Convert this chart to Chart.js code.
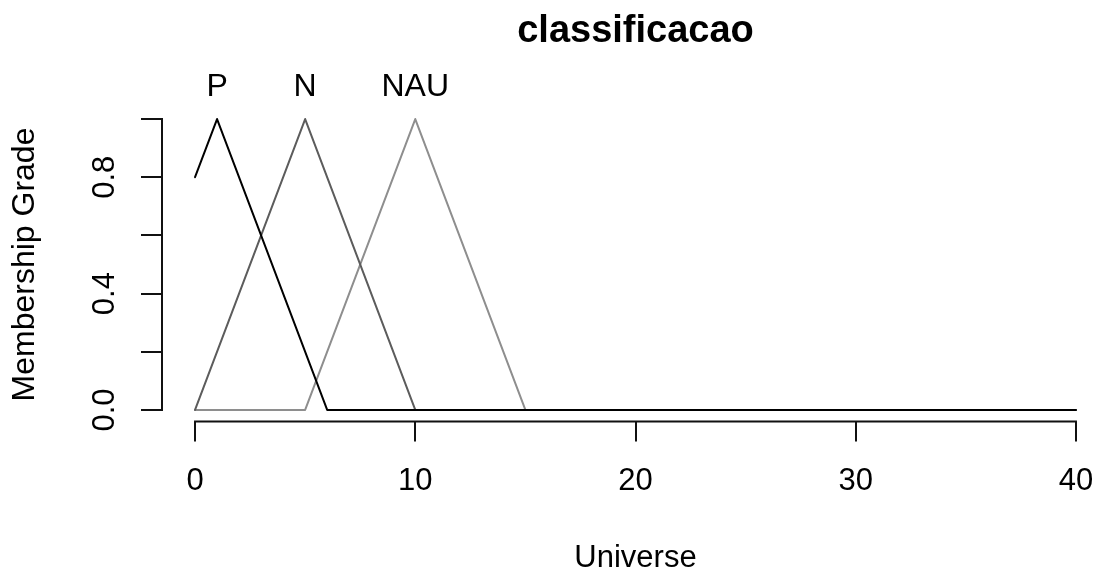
<!DOCTYPE html>
<html>
<head>
<meta charset="utf-8">
<title>classificacao</title>
<script src="https://cdn.jsdelivr.net/npm/chart.js@4/dist/chart.umd.min.js"></script>
<style>
  html, body { margin: 0; padding: 0; background: #ffffff; }
  #wrap { width: 1109px; height: 574px; }
</style>
</head>
<body>
<div id="wrap"><canvas id="chart" width="1109" height="574"></canvas></div>
<script>
// Membership functions of the fuzzy variable "classificacao"
const TITLE = 'classificacao';
const SET_NAMES = ['P', 'N', 'NAU'];
const P_X   = [0, 1, 6, 40];
const P_Y   = [0.8, 1, 0, 0];
const N_X   = [0, 5, 10, 40];
const N_Y   = [0, 1, 0, 0];
const NAU_X = [0, 5, 10, 15, 40];
const NAU_Y = [0, 0, 1, 0, 0];
const SET_COLORS = ['#000000', '#5c5c5c', '#8e8e8e'];

// Axis ticks
const X_TICKS = [0, 10, 20, 30, 40];
const Y_TICKS = [0, 0.2, 0.4, 0.6, 0.8, 1.0];
const Y_TICK_LABELS = ['0.0', '', '0.4', '', '0.8', ''];

const FONT = '"Liberation Sans", Arial, Helvetica, sans-serif';

function toPoints(xs, ys) {
  return xs.map((x, i) => ({ x: x, y: ys[i] }));
}

const series = [
  toPoints(P_X, P_Y),
  toPoints(N_X, N_Y),
  toPoints(NAU_X, NAU_Y)
];

// R-style axis lines spanning only the tick range, the main title centred
// over the plot region, and set names above each peak
const rAxes = {
  id: 'rAxes',
  afterDraw(chart) {
    const ctx = chart.ctx;
    const xs = chart.scales.x, ys = chart.scales.y;
    const area = chart.chartArea;
    ctx.save();
    ctx.strokeStyle = '#111';
    ctx.lineWidth = 2;
    ctx.lineCap = 'butt';
    ctx.beginPath();
    ctx.moveTo(xs.getPixelForValue(X_TICKS[0]) - 1, area.bottom);
    ctx.lineTo(xs.getPixelForValue(X_TICKS[X_TICKS.length - 1]) + 1, area.bottom);
    ctx.stroke();
    ctx.beginPath();
    ctx.moveTo(area.left, ys.getPixelForValue(Y_TICKS[0]) + 1);
    ctx.lineTo(area.left, ys.getPixelForValue(Y_TICKS[Y_TICKS.length - 1]) - 1);
    ctx.stroke();

    ctx.fillStyle = '#000';
    ctx.textAlign = 'center';
    ctx.font = 'bold 38px ' + FONT;
    ctx.textBaseline = 'alphabetic';
    ctx.fillText(TITLE, (area.left + area.right) / 2, 42);

    // set names centred above the point where each membership reaches its maximum
    ctx.font = '32px ' + FONT;
    ctx.textBaseline = 'middle';
    series.forEach((pts, i) => {
      let best = pts[0];
      pts.forEach(p => { if (p.y > best.y) best = p; });
      const px = xs.getPixelForValue(best.x);
      const py = ys.getPixelForValue(best.y);
      ctx.fillText(SET_NAMES[i], px, py - 32);
    });
    ctx.restore();
  }
};

new Chart(document.getElementById('chart'), {
  type: 'line',
  data: {
    datasets: series.map((pts, i) => ({
      label: SET_NAMES[i],
      data: pts,
      borderColor: SET_COLORS[i],
      borderWidth: 2,
      pointRadius: 0,
      tension: 0,
      fill: false,
      borderJoinStyle: 'round',
      borderCapStyle: 'round'
    }))
  },
  options: {
    responsive: false,
    animation: false,
    devicePixelRatio: 1,
    layout: { padding: { top: 107.4, left: 0, right: 0, bottom: 0 } },
    plugins: {
      legend: { display: false },
      tooltip: { enabled: false },
      title: { display: false }
    },
    scales: {
      x: {
        type: 'linear',
        min: -1.5,
        max: 41.5,
        afterBuildTicks(scale) { scale.ticks = X_TICKS.map(v => ({ value: v })); },
        afterFit(scale) {
          scale.height = 152.4;
          scale.paddingLeft = 0;
          scale.paddingRight = 0;
        },
        border: { display: false },
        grid: {
          drawOnChartArea: false,
          drawTicks: true,
          tickLength: 20,
          color: '#111',
          lineWidth: 2
        },
        ticks: {
          color: '#000',
          font: { family: FONT, size: 31 },
          padding: 21,
          autoSkip: false,
          maxRotation: 0,
          callback: v => String(v)
        },
        title: {
          display: true,
          text: 'Universe',
          color: '#000',
          font: { family: FONT, size: 31 },
          padding: { top: 0, bottom: -3 }
        }
      },
      y: {
        type: 'linear',
        min: -0.04,
        max: 1.04,
        afterBuildTicks(scale) { scale.ticks = Y_TICKS.map(v => ({ value: v })); },
        afterFit(scale) {
          scale.width = 162;
          scale.paddingTop = 0;
          scale.paddingBottom = 0;
        },
        border: { display: false },
        grid: {
          drawOnChartArea: false,
          drawTicks: true,
          tickLength: 21,
          color: '#111',
          lineWidth: 2
        },
        ticks: {
          color: '#000',
          font: { family: FONT, size: 31 },
          padding: 14,
          minRotation: 90,
          maxRotation: 90,
          crossAlign: 'center',
          autoSkip: false,
          callback: (v, i) => Y_TICK_LABELS[i]
        },
        title: {
          display: true,
          text: 'Membership Grade',
          color: '#000',
          font: { family: FONT, size: 32 },
          padding: { top: 6, bottom: 0 }
        }
      }
    }
  },
  plugins: [rAxes]
});
</script>
</body>
</html>
